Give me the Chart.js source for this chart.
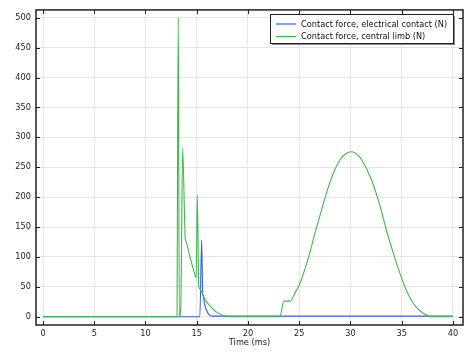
<!DOCTYPE html>
<html>
<head>
<meta charset="utf-8">
<script src="https://cdn.jsdelivr.net/npm/chart.js@4.4.1/dist/chart.umd.min.js"></script>
<style>
html,body{margin:0;padding:0;background:#fff;}
#wrap{width:473px;height:353px;position:relative;}
</style>
</head>
<body>
<div id="wrap"><canvas id="c" width="473" height="353"></canvas></div>
<script>
// ---- data ----
const seriesLabels = ["Contact force, electrical contact (N)", "Contact force, central limb (N)"];
const xTicks = [0, 5, 10, 15, 20, 25, 30, 35, 40];
const yTicks = [0, 50, 100, 150, 200, 250, 300, 350, 400, 450, 500];

const electricalTime = [0, 15.3, 15.48, 15.58, 15.62, 15.75, 15.97, 16.3, 16.6, 40];
const electricalForce = [0, 0, 128, 40, 36, 22, 10, 2, 1, 1];

const limbTime = [0, 13.0, 13.08, 13.12, 13.2, 13.3, 13.45, 13.62, 13.88, 13.92, 14.34, 14.83, 14.95, 15.05, 15.2, 15.24, 15.8, 16.3, 16.9, 17.6, 18.2, 23.1, 23.5, 24.1, 24.6, 25.07, 25.56, 26.05, 26.5, 27, 27.5, 28, 28.5, 29, 29.5, 30.1, 30.8, 31.4, 31.9, 32.2, 32.9, 33.5, 34.2, 34.83, 35.5, 36.1, 36.8, 37.4, 37.9, 40];
const limbForce = [0, 0, 0, 228, 500, 0, 20, 282, 130, 127.5, 100, 70, 65, 204, 50, 48, 29, 18, 8, 2, 0, 0, 26, 26, 40, 56, 80, 108, 138, 168, 198, 225, 247, 263, 272, 276, 269, 253, 235, 222, 184, 145, 105, 72, 42, 23, 9.5, 3, 0, 0];

const colors = ["#3a5cf0", "#3dbb4a"];

function pts(xs, ys){ return xs.map((x,i)=>({x:x, y:ys[i]})); }

const FONT = "DejaVu Sans";
const FS = 8.2;

const framePlugin = {
  id: 'frame',
  afterDraw(chart){
    const ctx = chart.ctx, a = chart.chartArea;
    const xs = chart.scales.x, ys = chart.scales.y;
    ctx.save();
    ctx.strokeStyle = '#222';
    ctx.lineWidth = 1.5;
    ctx.strokeRect(a.left, a.top, a.right - a.left, a.bottom - a.top);
    ctx.lineWidth = 1;
    const L = 4;
    ctx.beginPath();
    xTicks.forEach(v=>{
      const px = Math.round(xs.getPixelForValue(v)) + 0.5;
      ctx.moveTo(px, a.bottom); ctx.lineTo(px, a.bottom - L);
      ctx.moveTo(px, a.top); ctx.lineTo(px, a.top + L);
    });
    yTicks.forEach(v=>{
      const py = Math.round(ys.getPixelForValue(v)) + 0.5;
      ctx.moveTo(a.left, py); ctx.lineTo(a.left + L, py);
      ctx.moveTo(a.right, py); ctx.lineTo(a.right - L, py);
    });
    ctx.stroke();

    // legend
    const bx = 270, by = 14, bw = 183, bh = 29;
    ctx.fillStyle = '#888';
    ctx.fillRect(bx + 2, by + 2, bw, bh);
    ctx.fillStyle = '#fff';
    ctx.fillRect(bx, by, bw, bh);
    ctx.strokeStyle = '#222';
    ctx.lineWidth = 1;
    ctx.strokeRect(bx + 0.5, by + 0.5, bw, bh);
    ctx.font = FS + 'px "' + FONT + '"';
    ctx.textBaseline = 'middle';
    ctx.textAlign = 'left';
    const rows = [24, 36.5];
    chart.data.datasets.forEach((ds, i)=>{
      ctx.strokeStyle = ds.borderColor;
      ctx.lineWidth = 1.2;
      ctx.beginPath();
      ctx.moveTo(276, rows[i]); ctx.lineTo(296, rows[i]);
      ctx.stroke();
      ctx.fillStyle = '#111';
      ctx.fillText(ds.label, 301, rows[i] + 0.5);
    });
    ctx.restore();
  }
};

new Chart(document.getElementById('c'), {
  type: 'line',
  data: {
    datasets: [
      { label: seriesLabels[0], data: pts(electricalTime, electricalForce), borderColor: colors[0], backgroundColor: colors[0], borderWidth: 1.1, pointRadius: 0, cubicInterpolationMode: 'monotone', order: 1 },
      { label: seriesLabels[1], data: pts(limbTime, limbForce), borderColor: colors[1], backgroundColor: colors[1], borderWidth: 1.1, pointRadius: 0, cubicInterpolationMode: 'monotone', order: 0 }
    ]
  },
  options: {
    responsive: false,
    animation: false,
    devicePixelRatio: 1,
    layout: { padding: { top: 4, right: 10, left: 0, bottom: 0 } },
    plugins: { legend: { display: false }, tooltip: { enabled: false } },
    scales: {
      x: {
        type: 'linear', min: -0.683, max: 40.976,
        afterBuildTicks: s => { s.ticks = xTicks.map(v=>({value:v})); },
        afterFit: s => { s.height = 28; },
        grid: { color: '#e6e6e6', drawTicks: false },
        border: { display: false },
        ticks: { font: { family: FONT, size: FS }, color: '#222', padding: 4, maxRotation: 0, autoSkip: false },
        title: { display: true, text: 'Time (ms)', font: { family: FONT, size: FS }, color: '#222', padding: { top: 0, bottom: 5 } }
      },
      y: {
        type: 'linear', min: -13.9, max: 513.1,
        afterBuildTicks: s => { s.ticks = yTicks.map(v=>({value:v})); },
        afterFit: s => { s.width = 36; },
        grid: { color: '#e6e6e6', drawTicks: false },
        border: { display: false },
        ticks: { font: { family: FONT, size: FS }, color: '#222', padding: 5, autoSkip: false }
      }
    }
  },
  plugins: [framePlugin]
});
</script>
</body>
</html>
